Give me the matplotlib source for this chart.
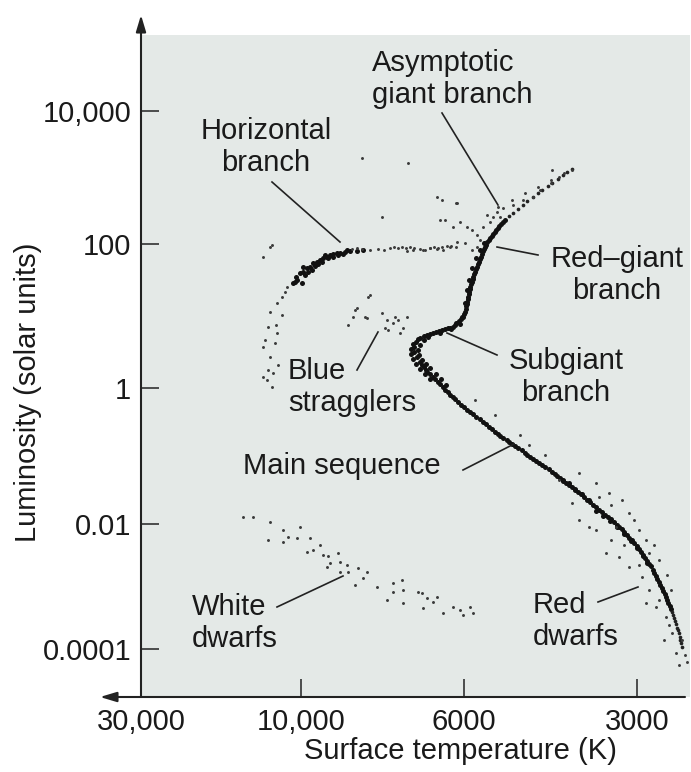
import matplotlib.pyplot as plt
from matplotlib.lines import Line2D
from matplotlib.ticker import FixedLocator, NullLocator
import numpy as np

plt.rcParams['font.family'] = ['Liberation Sans', 'DejaVu Sans']

#figure size in pixels (dpi 100)
W, H = 691, 772
txt_color = '#1a1a1a'
fsize = 21

### data (surface temperature in K, luminosity in solar units)
#main sequence incl. turnoff knee
ms_temp = [6890, 6975, 7020, 7000, 6950, 6890, 6800, 6720, 6610, 6510, 6410, 6310, 6210, 6100, 5980, 5840, 5700,
           5560, 5430, 5300, 5180, 5055, 4940, 4820, 4705, 4595, 4490, 4380, 4276, 4175, 4077, 3980, 3887, 3794,
           3705, 3617, 3532, 3449, 3367, 3287, 3222, 3159, 3097, 3036, 2976, 2929, 2883, 2837, 2804, 2770, 2737,
           2705, 2673, 2651, 2620, 2599, 2578, 2558, 2538, 2528, 2508,
           6930, 7040, 7085, 7085, 7040, 6975, 6890, 6780, 6676, 6800, 6890, 6930, 6910, 6846, 6760, 6676, 6552,
           6450, 6350,
           3532, 3435, 3340, 3248, 3159, 3072, 3000, 2929, 2883, 3632, 3735, 3840, 3933, 4028,
           6360, 6260, 6155, 6040, 5910, 5770, 5630, 5495, 5365, 5240, 5118, 4997, 4880, 4762, 4650, 4542, 4435,
           4328, 4225, 4126, 4028, 3933, 3840, 3750, 3661, 3574, 3490, 3408, 3327, 3254, 3190, 3128, 3066, 3006,
           2952, 2906, 2860, 2820, 2787, 2753, 2721, 2689, 2662, 2635, 2610, 2588, 2568, 2548, 2533, 2518,
           6460, 6560, 6665, 6760, 6845]
ms_lum = [4.9, 4.3, 3.7, 3.2, 2.7, 2.3, 1.95, 1.67, 1.43, 1.21, 1.03, 0.87, 0.74, 0.62, 0.52, 0.44, 0.375, 0.32,
          0.27, 0.225, 0.197, 0.172, 0.150, 0.131, 0.111, 0.097, 0.084, 0.074, 0.064, 0.054, 0.0475, 0.040, 0.035,
          0.0295, 0.025, 0.021, 0.0178, 0.0150, 0.0127, 0.0107, 0.0090, 0.0075, 0.0060, 0.0050, 0.0040, 0.0032,
          0.00255, 0.0021, 0.00165, 0.00132, 0.00106, 0.00085, 0.00068, 0.00055, 0.00044, 0.00035, 0.00028,
          0.00022, 0.00018, 0.000139, 0.000108,
          4.75, 4.1, 3.5, 2.96, 2.53, 2.15, 1.84, 1.57, 1.33, 4.6, 3.96, 3.37, 2.87, 2.45, 2.15, 1.89, 1.57, 1.33,
          1.10,
          0.0156, 0.0131, 0.0111, 0.0090, 0.0069, 0.0053, 0.0041, 0.0031, 0.0024, 0.0225, 0.0276, 0.0327, 0.040,
          0.0444,
          0.95, 0.80, 0.68, 0.57, 0.48, 0.41, 0.345, 0.295, 0.247, 0.21, 0.184, 0.161, 0.140, 0.121, 0.104, 0.090,
          0.079, 0.069, 0.059, 0.0506, 0.0436, 0.0374, 0.0321, 0.0272, 0.0229, 0.0193, 0.0163, 0.0138, 0.0117,
          0.0098, 0.0082, 0.0067, 0.0055, 0.0045, 0.0036, 0.00286, 0.0023, 0.00186, 0.00148, 0.00118, 0.00095,
          0.00076, 0.00061, 0.00049, 0.00039, 0.00031, 0.00025, 0.0002, 0.000158, 0.000123,
          1.12, 1.32, 1.55, 1.8, 2.1]

#subgiant + red-giant branch
giant_temp = [6800, 6676, 6552, 6430, 6310, 6212, 6135, 6058, 6000, 5952, 5929, 5905, 5882, 5859, 5836, 5789,
              5766, 5720, 5675, 5630, 5584, 5540, 5496, 5431, 5367, 5303, 5240, 5178, 5096, 5015, 4936, 4838,
              4743, 4650, 4558, 4468, 4380, 4293, 4209, 4125, 4044, 3965, 3887,
              6718, 6470, 6232, 6077, 6020, 5976, 5929, 5882, 5812, 5720, 5630, 5540,
              6738, 6614, 6491, 6370, 6261, 6173, 6096, 6029, 5976, 5940, 5917, 5893, 5870, 5847, 5812, 5777,
              5743, 5697, 5652, 5607, 5562, 5518, 5463, 5399, 5335, 5271, 5209, 5137]
giant_lum = [5.2, 5.6, 6.0, 6.4, 6.8, 7.0, 8.0, 9.1, 10.6, 12.5, 14.7, 17.2, 20.2, 23.8, 27.8, 32.6, 38.3, 44.9,
             52.8, 61.6, 73, 85, 97, 115, 132, 152, 174, 200, 230, 264, 292, 336, 386, 443, 510, 585, 649, 745,
             827, 949, 1090, 1210, 1350,
             5.07, 5.8, 6.6, 7.7, 9.7, 15.2, 23, 31.6, 46.3, 63.6, 83, 104,
             5.4, 5.8, 6.2, 6.6, 6.9, 7.5, 8.5, 9.8, 11.5, 13.6, 15.9, 18.6, 21.9, 25.7, 30.1, 35.3, 41.5, 48.7,
             57.0, 67, 79, 91, 106, 123, 142, 163, 187, 215]

#asymptotic giant branch and loose field stars
agb_temp = [6532, 6135, 6470, 6212, 6077, 5929, 5812, 5698, 5630, 5562, 5410, 5345, 5261, 5199, 5474, 5698, 5812,
            5976, 6116, 6271, 6410, 6532, 6676, 6824, 7041, 7175, 5136, 4936, 4743, 4558, 4432, 4226, 4093, 3887,
            4209, 5240, 4956, 4705, 4468, 4226, 4012, 8261, 7152, 7759, 6430, 6370, 6116]
agb_lum = [510, 414, 230, 180, 215, 180, 163, 137, 115, 180, 215, 255, 302, 255, 273, 91, 83, 104, 107, 91, 83, 85,
           88, 83, 83, 80, 348, 386, 459, 510, 649, 827, 1020, 1300, 1300, 360, 459, 585, 720, 917, 1170, 1960,
           1650, 255, 459, 230, 414]

#horizontal branch: dense blue clump, sparse red part, blue tail
hb_temp = [10300, 10070, 9938, 9814, 9723, 9632, 9511, 9423, 9335, 9218, 9132, 9046, 8934, 8850, 8712, 8577, 8391,
           8235, 10230, 9876, 9784, 9938, 9571, 9482, 9662, 9364, 9276, 9189, 9046, 8906, 8767, 8658, 10584, 10440,
           9969]
hb_lum = [34.7, 39.5, 40.8, 46.4, 47.9, 54.5, 56.3, 60.0, 63.9, 66.0, 70.4, 72.7, 75.0, 75.0, 77.5, 80.0, 80.0, 83,
          31.6, 37.0, 40.8, 47.9, 49.5, 52.8, 43.5, 56.3, 70.4, 63.9, 66.0, 70.4, 72.7, 83, 28.7, 29.6, 28.7]
hb_red_temp = [8523, 8391, 8261, 7857, 7567, 7473, 7380, 7288, 7197, 7107, 7019, 6676, 6593, 6511, 6430, 6330,
               6232, 8056, 7711, 6889, 6781, 6154]
hb_red_lum = [85.2, 88, 85.2, 85.2, 88, 90.8, 88, 90.8, 88, 90.8, 88, 88, 90.8, 88, 90.8, 93.8, 93.8, 82.6, 82.6,
              85.2, 82.6, 90.8]
hb_blue_temp = [13000, 12390, 12230, 11030, 11410, 11810, 12390, 11410, 11810, 12820, 11970, 13000, 12390, 11730,
                12560, 12140, 13000, 12650, 12230, 11890, 12560, 11180]
hb_blue_lum = [66, 90.8, 96.8, 25.3, 18.4, 15.2, 11.35, 10.3, 5.81, 4.6, 4.18, 3.72, 2.69, 2.08, 1.78, 1.62, 1.43,
               1.29, 1.03, 7.5, 7.03, 21.6]

#blue stragglers
bs_temp = [8391, 8497, 8133, 7759, 7638, 7496, 7380, 7265, 7614, 7175, 8056, 8444, 8107, 7686, 7450, 8184, 8631, 7334]
bs_lum = [12.9, 9.66, 9.36, 11.0, 8.8, 8.0, 8.8, 6.81, 6.4, 9.66, 19.6, 12.1, 18.4, 6.81, 9.66, 9.66, 7.5, 5.81]

#scatter around the lower main sequence / red dwarfs
rd_temp = [3779, 3532, 3354, 3185, 3097, 2976, 2894, 2860, 3394, 3222, 3097, 2941, 2894, 2781, 2673, 2609, 2508,
           2568, 2478, 2458, 2538, 3532, 3632, 3779, 3261, 3887, 4093, 4345, 4613, 4800, 5303, 5743, 3490, 3327,
           3036, 2804, 2748, 2662, 2620, 2748, 2860, 2976, 3159, 3327, 2641, 2694]
rd_lum = [0.0562, 0.0401, 0.0285, 0.0225, 0.01455, 0.00802, 0.00555, 0.00344, 0.00344, 0.00296, 0.00205, 0.00142,
          0.000546, 0.000474, 0.000325, 0.00018, 0.000139, 0.0000863, 0.0000802, 0.000062, 0.0000555, 0.00802,
          0.00895, 0.0115, 0.00895, 0.0203, 0.0444, 0.1034, 0.145, 0.204, 0.401, 0.666, 0.025, 0.019, 0.0115,
          0.00461, 0.00265, 0.00153, 0.00088, 0.00061, 0.00088, 0.00221, 0.00461, 0.00555, 0.00024, 0.000139]

#white dwarfs
wd_temp = [14920, 13930, 12395, 11333, 10069, 12566, 11333, 10950, 10299, 9723, 9814, 9632, 9423, 9335, 9189, 8906,
           9132, 9218, 8850, 8658, 8850, 8631, 8365, 8133, 8235, 8444, 7882, 7496, 7288, 7265, 7496, 6932, 6846,
           7265, 7638, 6739, 6614, 6532, 6824, 6410, 6212, 6077, 5859, 6020, 5789]
wd_lum = [0.0127, 0.0127, 0.0107, 0.00802, 0.00895, 0.00555, 0.00516, 0.0062, 0.00597, 0.00597, 0.00357, 0.00384,
          0.00461, 0.00319, 0.00307, 0.00344, 0.00237, 0.00205, 0.00246, 0.00221, 0.00171, 0.00171, 0.00198,
          0.00171, 0.00137, 0.00106, 0.000985, 0.00114, 0.00127, 0.00088, 0.000817, 0.000817, 0.000788, 0.000546,
          0.00061, 0.000654, 0.000567, 0.000678, 0.000457, 0.000376, 0.000474, 0.00042, 0.000474, 0.00035,
          0.000376]

#axis ticks
temp_ticks = [30000, 10000, 6000, 3000]
temp_labels = ['30,000', '10,000', '6000', '3000']
lum_ticks = [1e4, 1e2, 1, 1e-2, 1e-4]
lum_labels = ['10,000', '100', '1', '0.01', '0.0001']

### axis scales: the diagram's axes are stretched piecewise, anchored at the tick marks
x_anchor_temp = np.log10([2000, 3000, 6000, 10000, 30000, 50000])
x_anchor_pos = np.array([-739.8, -638.0, -464.0, -301.0, -141.0, -66.6])
y_anchor_lum = np.array([-6, -4, -2, 0, 2, 4, 7])
y_anchor_pos = np.array([-774.0, -649.0, -524.0, -388.0, -244.0, -111.0, 88.5])


def temp_fwd(t):
    t = np.clip(np.asarray(t, dtype=float), 1, None)
    return np.interp(np.log10(t), x_anchor_temp, x_anchor_pos)


def temp_inv(u):
    return 10 ** np.interp(u, x_anchor_pos, x_anchor_temp)


def lum_fwd(l):
    l = np.clip(np.asarray(l, dtype=float), 1e-12, None)
    return np.interp(np.log10(l), y_anchor_lum, y_anchor_pos)


def lum_inv(u):
    return 10 ** np.interp(u, y_anchor_pos, y_anchor_lum)


def fpx(x, y):
    #reference pixel (from top-left) -> figure fraction
    return x / W, 1 - y / H


fig = plt.figure(figsize=(W / 100, H / 100), dpi=100)
ax = fig.add_axes([141 / W, 1 - 697 / H, (690 - 141) / W, (697 - 35) / H])
ax.set_facecolor('#e4e9e7')

ax.set_xscale('function', functions=(temp_fwd, temp_inv))
ax.set_yscale('function', functions=(lum_fwd, lum_inv))
ax.set_xlim(30000, 2432)
ax.set_ylim(1.71e-5, 1.39e5)

#stars
dense = dict(s=13, color='#111111', linewidths=0, zorder=3)
medium = dict(s=7, color='#222222', linewidths=0, zorder=3)
sparse = dict(s=4.5, color='#3a3a3a', linewidths=0, zorder=3)

#upper giant branch and faint end of the main sequence are thinner
g_t = np.array(giant_temp)
g_l = np.array(giant_lum)
upper = g_l > 240
m_t = np.array(ms_temp)
m_l = np.array(ms_lum)
faint = m_l < 4e-4

ax.scatter(m_t[~faint], m_l[~faint], **dense)
ax.scatter(m_t[faint], m_l[faint], **medium)
ax.scatter(g_t[~upper], g_l[~upper], **dense)
ax.scatter(g_t[upper], g_l[upper], **medium)
ax.scatter(hb_temp, hb_lum, **dense)
ax.scatter(agb_temp, agb_lum, **sparse)
ax.scatter(hb_red_temp, hb_red_lum, **sparse)
ax.scatter(hb_blue_temp, hb_blue_lum, **sparse)
ax.scatter(bs_temp, bs_lum, **sparse)
ax.scatter(rd_temp, rd_lum, **sparse)
ax.scatter(wd_temp, wd_lum, **sparse)

#ticks
ax.xaxis.set_major_locator(FixedLocator(temp_ticks))
ax.xaxis.set_minor_locator(NullLocator())
ax.set_xticklabels(temp_labels)
ax.yaxis.set_major_locator(FixedLocator(lum_ticks))
ax.yaxis.set_minor_locator(NullLocator())
ax.set_yticklabels(lum_labels)
ax.tick_params(axis='both', direction='in', length=13, width=1.1, color='#222222',
               labelsize=fsize, labelcolor=txt_color)
ax.tick_params(axis='x', pad=8)
ax.tick_params(axis='y', pad=7)
for s in ax.spines.values():
    s.set_visible(False)

#axis lines with arrow heads
arrow = dict(arrowstyle='-|>,head_length=1.0,head_width=0.3', lw=1.5, color='#222222', shrinkA=0, shrinkB=0)
ax.annotate('', xy=fpx(141, 15), xytext=fpx(141, 697), xycoords='figure fraction',
            textcoords='figure fraction', arrowprops=arrow)
ax.annotate('', xy=fpx(100, 697), xytext=fpx(685, 697), xycoords='figure fraction',
            textcoords='figure fraction', arrowprops=arrow)

#axis titles
fig.text(*fpx(28, 392), 'Luminosity (solar units)', rotation=90, ha='center', va='center',
         fontsize=fsize, color=txt_color)
fig.text(*fpx(460, 751), 'Surface temperature (K)', ha='center', va='center', fontsize=fsize, color=txt_color)

#labels with leader lines
notes = [
    ('Asymptotic\ngiant branch', (372, 79), 'left', (442, 113), (498, 205)),
    ('Horizontal\nbranch', (266, 147), 'center', (272, 182), (340, 242)),
    ('Red\u2013giant\nbranch', (617, 275), 'center', (538, 255), (497, 247)),
    ('Subgiant\nbranch', (566, 377), 'center', (497, 355), (447, 333)),
    ('Blue\nstragglers', (288, 387), 'left', (357, 370), (378, 332)),
    ('Main sequence', (243, 466), 'left', (463, 470), (514, 444)),
    ('White\ndwarfs', (192, 623), 'left', (277, 607), (343, 576)),
    ('Red\ndwarfs', (533, 621), 'left', (598, 602), (638, 587)),
]
for label, pos, ha, p0, p1 in notes:
    fig.text(*fpx(*pos), label, ha=ha, va='center', multialignment=ha, fontsize=fsize,
             linespacing=1.2, color=txt_color)
    x0, y0 = fpx(*p0)
    x1, y1 = fpx(*p1)
    fig.add_artist(Line2D([x0, x1], [y0, y1], transform=fig.transFigure, color='#222222', lw=1.2))

fig.savefig('out.png', dpi=100)
